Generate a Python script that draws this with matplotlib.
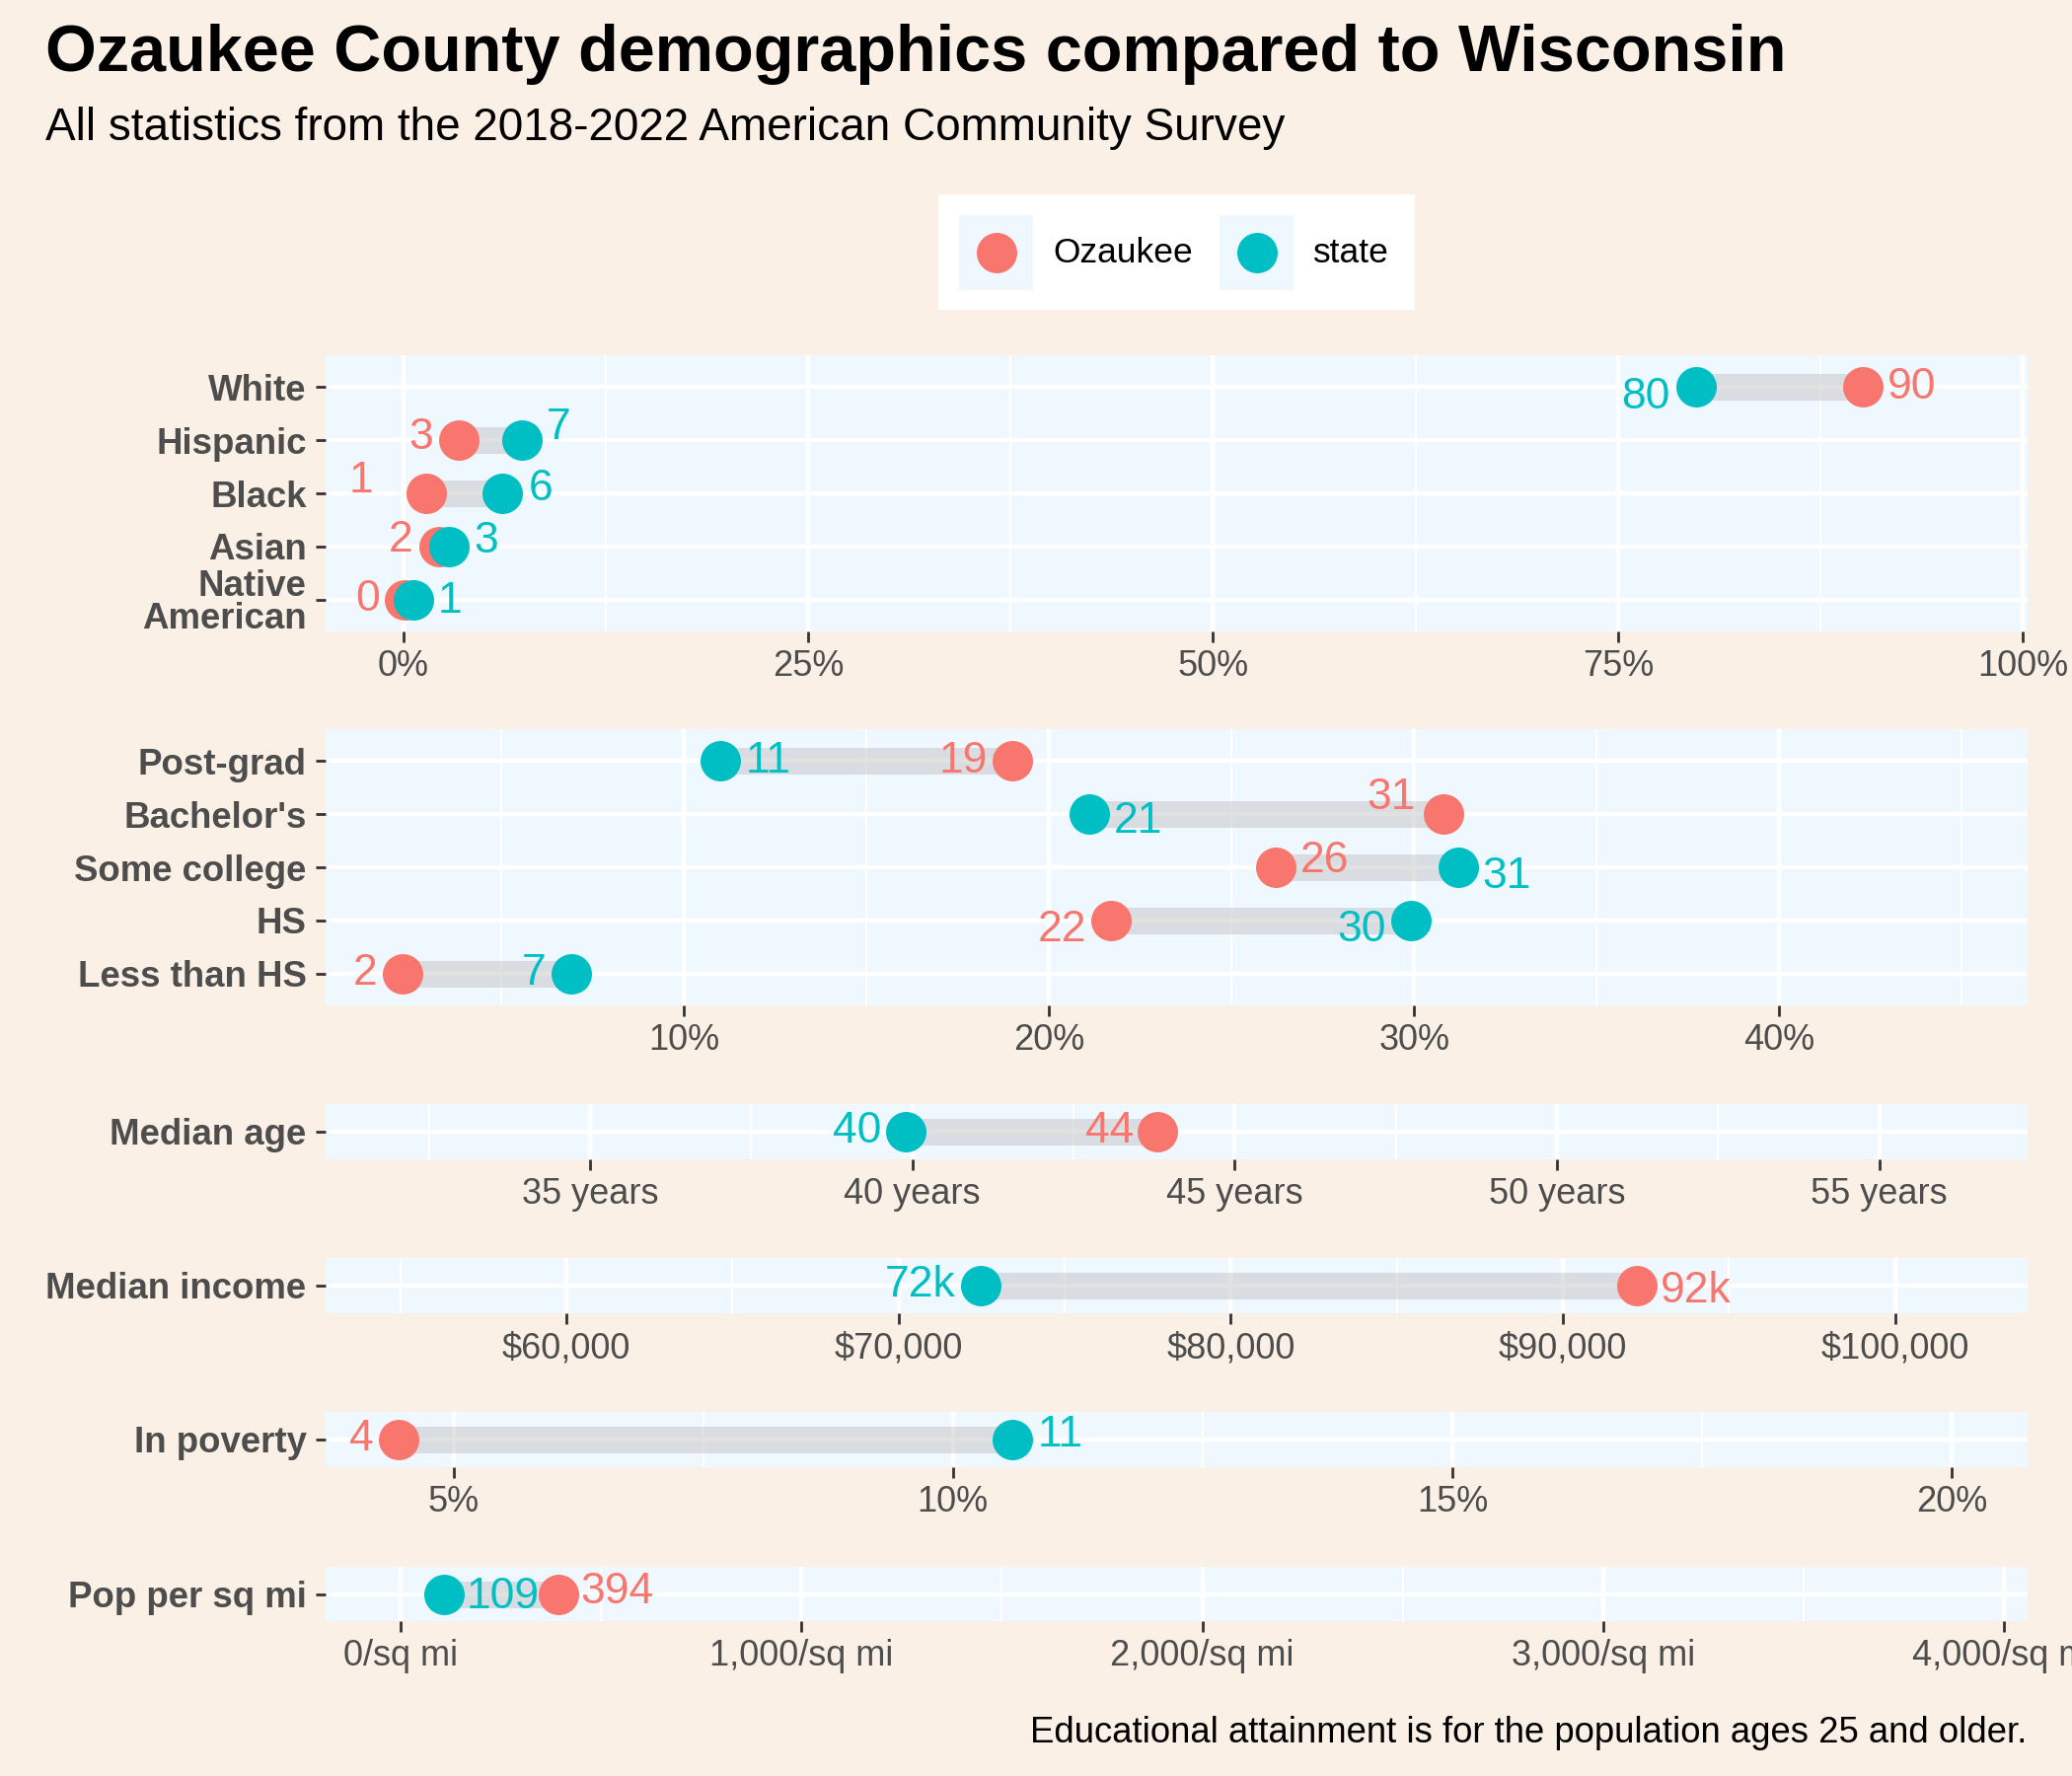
import matplotlib.pyplot as plt
from matplotlib.ticker import FuncFormatter
from matplotlib.patches import Rectangle

plt.rcParams['font.family'] = ['Liberation Sans', 'DejaVu Sans']

OZ_COLOR = '#F8766D'
STATE_COLOR = '#00BFC4'
PANEL_BG = '#F0F8FF'
FIG_BG = '#FAF0E6'
TEXT_GREY = '#4D4D4D'

# ---- data ----
race_labels = ['White', 'Hispanic', 'Black', 'Asian', 'Native\nAmerican']
race_oz = [90.1, 3.4, 1.4, 2.2, 0.1]
race_state = [79.8, 7.3, 6.1, 2.8, 0.6]

edu_labels = ['Post-grad', "Bachelor's", 'Some college', 'HS', 'Less than HS']
edu_oz = [19.0, 30.8, 26.2, 21.7, 2.3]
edu_state = [11.0, 21.1, 31.2, 29.9, 6.9]

age_labels = ['Median age']
age_oz = [43.8]
age_state = [39.9]

income_labels = ['Median income']
income_oz = [92233]
income_state = [72465]

poverty_labels = ['In poverty']
poverty_oz = [4.45]
poverty_state = [10.6]

density_labels = ['Pop per sq mi']
density_oz = [394]
density_state = [109]

# label nudges in pixels (dx, dy), mimicking the repelled labels
race_oz_nudge = [(25, 0), (-25, 3), (-54, 13), (-26, 6), (-25, 0)]
race_state_nudge = [(-26, -10), (25, 13), (27, 5), (26, 5), (25, -2)]
edu_oz_nudge = [(-25, 0), (-28, 17), (25, 7), (-25, -10), (-26, 0)]
edu_state_nudge = [(25, 0), (25, -7), (25, -9), (-25, -10), (-25, 0)]

W, H = 2100, 1800


def px_box(left, top, right, bottom):
    return [left / W, 1 - bottom / H, (right - left) / W, (bottom - top) / H]


def draw_panel(ax, cats, oz, st, xlim, majors, minors, tick_fmt, val_fmt,
               oz_nudge, st_nudge):
    y = list(range(len(cats)))
    ax.set_facecolor(PANEL_BG)
    for s in ax.spines.values():
        s.set_visible(False)

    ax.hlines(y, oz, st, color='#bebebe', alpha=0.45, linewidth=19.5,
              capstyle='butt', zorder=2)
    ax.scatter(oz, y, s=870, color=OZ_COLOR, linewidths=0, zorder=3)
    ax.scatter(st, y, s=870, color=STATE_COLOR, linewidths=0, zorder=3)

    for i in y:
        for v, nud, col in ((oz[i], oz_nudge[i], OZ_COLOR),
                            (st[i], st_nudge[i], STATE_COLOR)):
            ax.annotate(val_fmt(v), (v, i), xytext=nud,
                        textcoords='offset pixels',
                        ha='left' if nud[0] > 0 else 'right', va='center',
                        fontsize=32, color=col, zorder=4)

    ax.set_xlim(*xlim)
    ax.set_ylim(len(cats) - 0.4, -0.6)
    ax.set_xticks(majors)
    ax.set_xticks(minors, minor=True)
    ax.xaxis.set_major_formatter(FuncFormatter(tick_fmt))
    ax.set_yticks(y)
    ax.set_yticklabels(cats, fontweight='bold', linespacing=0.95)

    ax.set_axisbelow(True)
    ax.grid(which='major', color='white', linewidth=3.1)
    ax.grid(which='minor', axis='x', color='white', linewidth=1.5)
    ax.tick_params(which='minor', length=0)
    ax.tick_params(axis='x', which='major', length=8, width=2, color='#333333',
                   pad=5, labelsize=26, labelcolor=TEXT_GREY)
    ax.tick_params(axis='y', which='major', length=7, width=2, color='#333333',
                   pad=7, labelsize=26.4, labelcolor=TEXT_GREY)


fig = plt.figure(figsize=(21, 18), dpi=100)
fig.patch.set_facecolor(FIG_BG)

pct = lambda v, _=None: f"{v:.0f}%"
rnd = lambda v: f"{round(v)}"

ax1 = fig.add_axes(px_box(330, 360, 2055, 640))
draw_panel(ax1, race_labels, race_oz, race_state, (-4.8, 100.3),
           [0, 25, 50, 75, 100], [12.5, 37.5, 62.5, 87.5], pct, rnd,
           race_oz_nudge, race_state_nudge)

ax2 = fig.add_axes(px_box(330, 739, 2055, 1019))
draw_panel(ax2, edu_labels, edu_oz, edu_state, (0.18, 46.8),
           [10, 20, 30, 40], [5, 15, 25, 35, 45], pct, rnd,
           edu_oz_nudge, edu_state_nudge)

ax3 = fig.add_axes(px_box(330, 1119, 2055, 1175))
draw_panel(ax3, age_labels, age_oz, age_state, (30.9, 57.3),
           [35, 40, 45, 50, 55], [32.5, 37.5, 42.5, 47.5, 52.5],
           lambda v, _: f"{v:.0f} years", rnd, [(-24, 0)], [(-25, 0)])

ax4 = fig.add_axes(px_box(330, 1275, 2055, 1331))
draw_panel(ax4, income_labels, income_oz, income_state, (52750, 103990),
           [60000, 70000, 80000, 90000, 100000],
           [55000, 65000, 75000, 85000, 95000],
           lambda v, _: f"${v:,.0f}", lambda v: f"{round(v / 1000)}k",
           [(24, -5)], [(-25, 0)])

ax5 = fig.add_axes(px_box(330, 1431, 2055, 1487))
draw_panel(ax5, poverty_labels, poverty_oz, poverty_state, (3.72, 20.76),
           [5, 10, 15, 20], [7.5, 12.5, 17.5], pct, rnd,
           [(-25, 0)], [(25, 4)])

ax6 = fig.add_axes(px_box(330, 1588, 2055, 1643))
draw_panel(ax6, density_labels, density_oz, density_state, (-187, 4059),
           [0, 1000, 2000, 3000, 4000], [500, 1500, 2500, 3500],
           lambda v, _: f"{v:,.0f}/sq mi", rnd, [(22, 2)], [(22, -3)])

# legend drawn by hand so the keys get the panel-coloured background
lax = fig.add_axes(px_box(951, 197, 1434, 314))
lax.set_facecolor('white')
lax.set_xlim(951, 1434)
lax.set_ylim(314, 197)
lax.set_xticks([])
lax.set_yticks([])
for s in lax.spines.values():
    s.set_visible(False)
for x0, col, name in ((972, OZ_COLOR, 'Ozaukee'), (1236, STATE_COLOR, 'state')):
    lax.add_patch(Rectangle((x0, 218), 75, 76, facecolor=PANEL_BG, edgecolor='none'))
    lax.scatter([x0 + 37.5], [256], s=870, color=col, linewidths=0)
    lax.text(x0 + 95, 257, name, fontsize=25.5, va='center', ha='left', color='black')

fig.text(46 / W, 1 - 72 / H, 'Ozaukee County demographics compared to Wisconsin',
         fontsize=48, fontweight='bold', ha='left', va='baseline')
fig.text(46 / W, 1 - 142 / H, 'All statistics from the 2018-2022 American Community Survey',
         fontsize=33, ha='left', va='baseline')
fig.text(2054 / W, 1 - 1757 / H,
         'Educational attainment is for the population ages 25 and older.',
         fontsize=26.3, ha='right', va='center')

fig.savefig('out.png', dpi=100, facecolor=FIG_BG)
